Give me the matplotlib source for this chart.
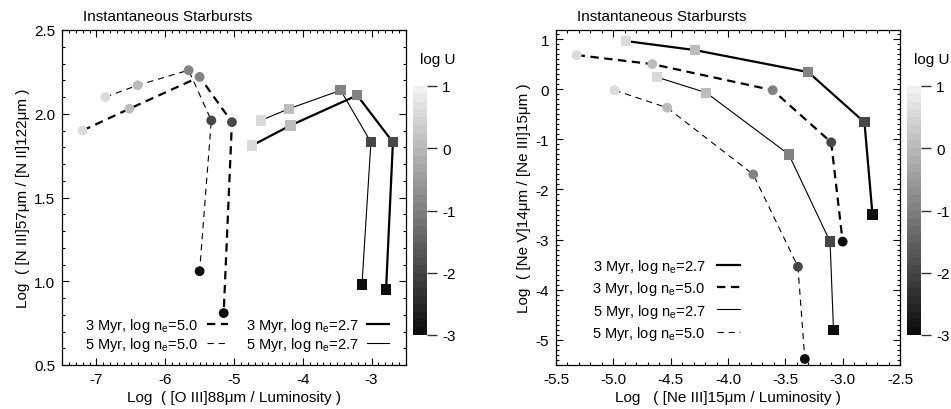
import matplotlib
matplotlib.use("Agg")
import matplotlib.pyplot as plt
import numpy as np
from matplotlib.colors import LinearSegmentedColormap, Normalize
from matplotlib.ticker import MultipleLocator, FormatStrFormatter

plt.rcParams['font.family'] = ['Liberation Sans', 'DejaVu Sans']
plt.rcParams['mathtext.fontset'] = 'custom'
plt.rcParams['mathtext.rm'] = 'Liberation Sans'
plt.rcParams['mathtext.it'] = 'Liberation Sans:italic'
plt.rcParams['lines.scale_dashes'] = False

# ---------------- data ----------------
logU = [0.5, 0.0, -1.0, -2.0, -3.0]

# Left panel: x = log([O III]88um / L), y = log([N III]57um / [N II]122um)
L_3myr_n27_x = [-4.74, -4.18, -3.21, -2.69, -2.79]
L_3myr_n27_y = [1.81, 1.93, 2.11, 1.83, 0.95]
L_5myr_n27_x = [-4.61, -4.20, -3.45, -3.01, -3.14]
L_5myr_n27_y = [1.96, 2.03, 2.14, 1.83, 0.98]
L_3myr_n50_x = [-7.20, -6.52, -5.50, -5.03, -5.15]
L_3myr_n50_y = [1.90, 2.03, 2.22, 1.95, 0.81]
L_5myr_n50_x = [-6.87, -6.40, -5.66, -5.33, -5.50]
L_5myr_n50_y = [2.10, 2.17, 2.26, 1.96, 1.06]

# Right panel: x = log([Ne III]15um / L), y = log([Ne V]14um / [Ne III]15um)
R_3myr_n27_x = [-4.89, -4.29, -3.30, -2.81, -2.74]
R_3myr_n27_y = [0.96, 0.78, 0.34, -0.66, -2.50]
R_3myr_n50_x = [-5.32, -4.66, -3.61, -3.10, -3.00]
R_3myr_n50_y = [0.68, 0.50, -0.02, -1.06, -3.04]
R_5myr_n27_x = [-4.62, -4.19, -3.47, -3.11, -3.08]
R_5myr_n27_y = [0.24, -0.07, -1.30, -3.04, -4.80]
R_5myr_n50_x = [-4.99, -4.53, -3.78, -3.39, -3.33]
R_5myr_n50_y = [-0.02, -0.37, -1.70, -3.54, -5.38]

lab_3_27 = r'3 Myr, log n$_{\rm e}$=2.7'
lab_3_50 = r'3 Myr, log n$_{\rm e}$=5.0'
lab_5_27 = r'5 Myr, log n$_{\rm e}$=2.7'
lab_5_50 = r'5 Myr, log n$_{\rm e}$=5.0'

cbar_ticks = [1, 0, -1, -2, -3]

# ---------------- style ----------------
cmap = LinearSegmentedColormap.from_list('g', [(0.05, 0.05, 0.05), (0.94, 0.94, 0.94)], N=32)
norm = Normalize(vmin=-3, vmax=1)

THICK = 1.6
THIN = 0.8
dash_thick = (0, (6, 4))
dash_thin = (0, (4.5, 3.5))
FS = 11
LFS = 10.5

fig = plt.figure(figsize=(9.51, 4.10), dpi=100)

axL = fig.add_axes([62/951, 44/410, 344/951, 335/410])
axR = fig.add_axes([556/951, 44/410, 344/951, 335/410])
caxL = fig.add_axes([413/951, 74/410, 14/951, 249/410])
caxR = fig.add_axes([907/951, 74/410, 14/951, 249/410])


def series(ax, x, y, lw, ls, marker, label, ms):
    line, = ax.plot(x, y, color='black', lw=lw, ls=ls, zorder=2, label=label)
    ax.scatter(x, y, c=logU, cmap=cmap, norm=norm, marker=marker, s=ms,
               edgecolors='none', zorder=3)
    return line


# left panel
l1 = series(axL, L_3myr_n50_x, L_3myr_n50_y, THICK, dash_thick, 'o', lab_3_50, 50)
l2 = series(axL, L_5myr_n50_x, L_5myr_n50_y, THIN, dash_thin, 'o', lab_5_50, 50)
l3 = series(axL, L_3myr_n27_x, L_3myr_n27_y, THICK, '-', 's', lab_3_27, 55)
l4 = series(axL, L_5myr_n27_x, L_5myr_n27_y, THIN, '-', 's', lab_5_27, 55)

axL.xaxis.set_minor_locator(MultipleLocator(0.1))
axL.yaxis.set_major_locator(MultipleLocator(0.5))
axL.yaxis.set_minor_locator(MultipleLocator(0.1))
axL.xaxis.set_major_formatter(FormatStrFormatter('%d'))
axL.yaxis.set_major_formatter(FormatStrFormatter('%.1f'))
axL.set_xticks([-7, -6, -5, -4, -3])
axL.set_xlim(-7.5, -2.5)
axL.set_ylim(0.5, 2.5)
axL.set_xlabel('Log  ( [O III]88μm / Luminosity )', fontsize=FS, labelpad=3)
axL.set_ylabel('Log  ( [N III]57μm / [N II]122μm )', fontsize=FS, labelpad=3)

legA = axL.legend(handles=[l1, l2], loc='center', bbox_to_anchor=(0.275, 0.091),
                  frameon=False, markerfirst=False, fontsize=LFS, handlelength=1.5,
                  handletextpad=0.6, labelspacing=0.1, borderpad=0, borderaxespad=0)
axL.add_artist(legA)
axL.legend(handles=[l3, l4], loc='center', bbox_to_anchor=(0.743, 0.091),
           frameon=False, markerfirst=False, fontsize=LFS, handlelength=1.5,
           handletextpad=0.6, labelspacing=0.1, borderpad=0, borderaxespad=0)

# right panel
r1 = series(axR, R_3myr_n27_x, R_3myr_n27_y, THICK, '-', 's', lab_3_27, 55)
r2 = series(axR, R_3myr_n50_x, R_3myr_n50_y, THICK, dash_thick, 'o', lab_3_50, 50)
r3 = series(axR, R_5myr_n27_x, R_5myr_n27_y, THIN, '-', 's', lab_5_27, 55)
r4 = series(axR, R_5myr_n50_x, R_5myr_n50_y, THIN, dash_thin, 'o', lab_5_50, 50)

axR.set_xlim(-5.5, -2.5)
axR.set_ylim(-5.5, 1.18)
axR.xaxis.set_major_locator(MultipleLocator(0.5))
axR.xaxis.set_minor_locator(MultipleLocator(0.1))
axR.yaxis.set_major_locator(MultipleLocator(1))
axR.yaxis.set_minor_locator(MultipleLocator(0.1))
axR.xaxis.set_major_formatter(FormatStrFormatter('%.1f'))
axR.yaxis.set_major_formatter(FormatStrFormatter('%d'))
axR.set_xlabel('Log   ( [Ne III]15μm / Luminosity )', fontsize=FS, labelpad=3)
axR.set_ylabel('Log  ( [Ne V]14μm / [Ne III]15μm )', fontsize=FS, labelpad=3)
axR.legend(handles=[r1, r2, r3, r4], loc='center', bbox_to_anchor=(0.321, 0.196),
           frameon=False, markerfirst=False, fontsize=LFS, handlelength=1.6,
           handletextpad=0.8, labelspacing=0.3, borderpad=0, borderaxespad=0)

for ax in (axL, axR):
    ax.tick_params(which='both', direction='in', top=True, right=True,
                   labelsize=FS, pad=5, width=0.8)
    ax.tick_params(which='major', length=5)
    ax.tick_params(which='minor', length=2.5)
    for s in ax.spines.values():
        s.set_linewidth(0.9)
    ax.text(0.06, 1.02, 'Instantaneous Starbursts', transform=ax.transAxes,
            fontsize=FS, ha='left', va='bottom')

# colorbars
for cax in (caxL, caxR):
    sm = plt.cm.ScalarMappable(cmap=cmap, norm=norm)
    cb = fig.colorbar(sm, cax=cax, ticks=cbar_ticks)
    cb.outline.set_visible(False)
    cax.tick_params(length=7, width=1, color='#333333', labelsize=FS, pad=4)
    cax.set_yticklabels([str(t) for t in cbar_ticks])
    cax.text(1.8, 1.08, 'log U', transform=cax.transAxes, fontsize=FS,
             ha='center', va='bottom')

fig.savefig('out.png', dpi=100)
